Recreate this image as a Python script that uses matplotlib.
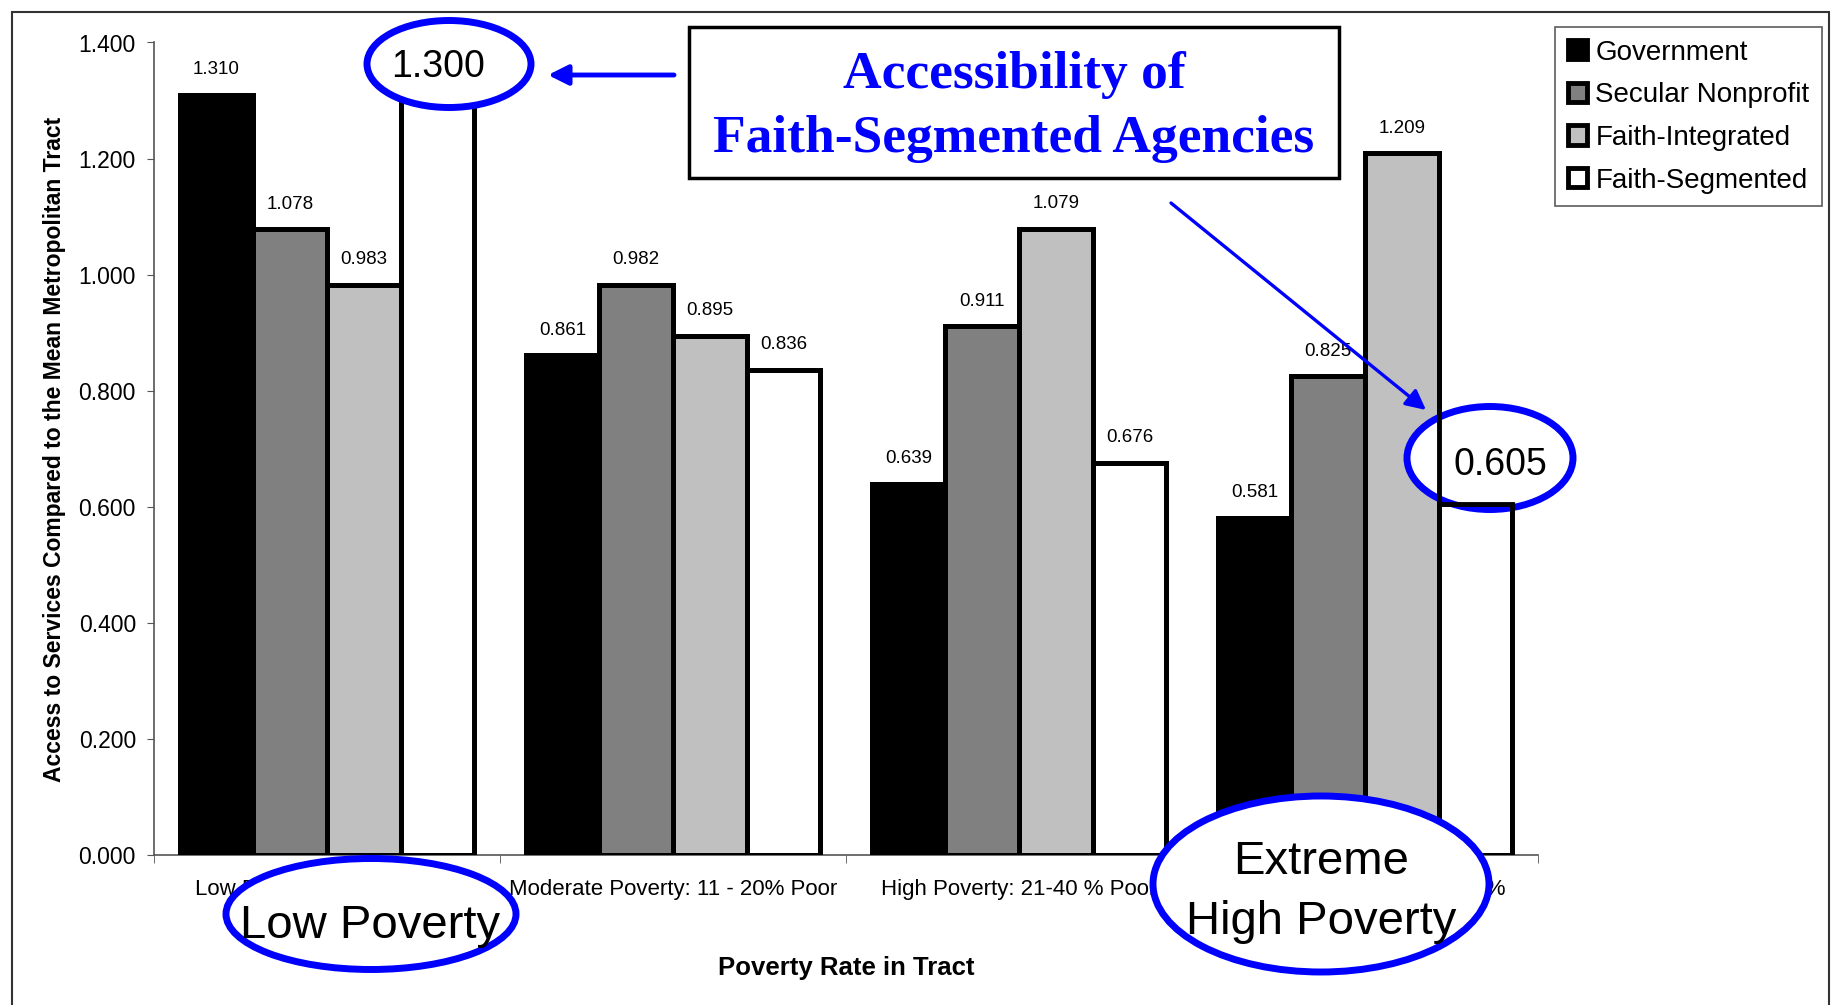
import matplotlib
matplotlib.use("Agg")
import matplotlib.pyplot as plt
import numpy as np
from matplotlib.patches import Ellipse, Rectangle, FancyArrowPatch

plt.rcParams['font.family'] = ['Liberation Sans', 'DejaVu Sans']

# data
categories = ['Low Poverty: 0 - 10% Poor', 'Moderate Poverty: 11 - 20% Poor',
              'High Poverty: 21-40 % Poor', 'Extreme Poverty: Over 40 %']
series = ['Government', 'Secular Nonprofit', 'Faith-Integrated', 'Faith-Segmented']
government = [1.310, 0.861, 0.639, 0.581]
secular = [1.078, 0.982, 0.911, 0.825]
faith_int = [0.983, 0.895, 1.079, 1.209]
faith_seg = [1.300, 0.836, 0.676, 0.605]
yticks = [0.0, 0.2, 0.4, 0.6, 0.8, 1.0, 1.2, 1.4]
circled = [0, 3]  # faith-segmented values shown big inside the blue circles

values = [government, secular, faith_int, faith_seg]
colors = ['#000000', '#808080', '#c0c0c0', '#ffffff']

W, H = 1837, 1005
fig = plt.figure(figsize=(W / 100, H / 100), dpi=100)


def fx(x):
    return x / W


def fy(y):
    return 1 - y / H


ax = fig.add_axes([fx(154), fy(855), fx(1538) - fx(154), fy(42.5) - fy(855)])

x = np.arange(len(categories))
bw = 0.2128
for i, (vals, col) in enumerate(zip(values, colors)):
    pos = x + (i - 1.5) * bw
    ax.bar(pos, vals, bw, color=col, edgecolor='black', linewidth=3.5,
           label=series[i], zorder=2)
    # edges again on top of the white ellipse
    ax.bar(pos, vals, bw, fill=False, edgecolor='black', linewidth=3.5, zorder=4)
    for j, (p, v) in enumerate(zip(pos, vals)):
        if i == 3 and j in circled:
            continue
        ax.annotate(f'{v:.3f}', (p, v), xytext=(0, 12), textcoords='offset points',
                    ha='center', va='bottom', fontsize=13.5, zorder=2.5)

ax.set_xlim(-0.5, 3.5)
ax.set_ylim(0, 1.4)
ax.set_yticks(yticks)
ax.set_yticklabels([f'{t:.3f}' for t in yticks], fontsize=16.5)
ax.set_xticks(x)
ax.set_xticklabels(categories, fontsize=16)
ax.set_xticks(np.arange(-0.5, 4.0, 1.0), minor=True)
ax.tick_params(axis='x', which='major', length=0, pad=17)
ax.tick_params(axis='x', which='minor', length=6, direction='out', color='#555555')
ax.tick_params(axis='y', length=5, pad=8, color='#555555')
for s in ['top', 'right']:
    ax.spines[s].set_visible(False)
for s in ['left', 'bottom']:
    ax.spines[s].set_color('#555555')
    ax.spines[s].set_linewidth(1.2)

fig.text(fx(846), fy(975), 'Poverty Rate in Tract', ha='center', va='baseline',
         fontsize=18.5, fontweight='bold')
fig.text(fx(55), fy(449), 'Access to Services Compared to the Mean Metropolitan Tract',
         rotation=90, ha='center', va='center', fontsize=16.5, fontweight='bold')

handles, labels = ax.get_legend_handles_labels()
leg = ax.legend(handles[:4], labels[:4], loc='upper right',
                bbox_to_anchor=(fx(1822), fy(27)), bbox_transform=fig.transFigure,
                fontsize=20, frameon=True, fancybox=False, edgecolor='#333333',
                handlelength=0.7, handleheight=0.7, handletextpad=0.3,
                labelspacing=0.6, borderpad=0.45, borderaxespad=0)
leg.get_frame().set_linewidth(1.2)

# title box
ax.add_patch(Rectangle((fx(689), fy(178)), fx(1339) - fx(689), fy(27) - fy(178),
                       transform=fig.transFigure, facecolor='white', edgecolor='black',
                       linewidth=2.5, clip_on=False, zorder=8))
ax.text(fx(1014), fy(88), 'Accessibility of', transform=fig.transFigure,
        ha='center', va='baseline', fontsize=38.5, fontweight='bold', color='#0000ff',
        family='Liberation Serif', zorder=9)
ax.text(fx(1014), fy(152), 'Faith-Segmented Agencies', transform=fig.transFigure,
        ha='center', va='baseline', fontsize=38.5, fontweight='bold', color='#0000ff',
        family='Liberation Serif', zorder=9)

blue = '#0000ff'
# ellipses: (cx, cy, w, h, zorder)
ells = [(449, 64, 164, 87, 10), (1490, 458, 166, 103, 3),
        (371, 914, 290, 111, 10), (1321, 884, 336, 176, 10)]
for cx, cy, w, h, z in ells:
    ax.add_patch(Ellipse((fx(cx), fy(cy)), w / W, h / H, transform=fig.transFigure,
                         facecolor='white', edgecolor=blue, linewidth=5,
                         clip_on=False, zorder=z))

big = dict(transform=fig.transFigure, ha='center', va='baseline', zorder=11)
ax.text(fx(438), fy(77), f'{faith_seg[0]:.3f}', fontsize=27, **big)
ax.text(fx(1500), fy(475), f'{faith_seg[3]:.3f}', fontsize=27, **big)
ax.text(fx(370), fy(938), 'Low Poverty', fontsize=34, **big)
ax.text(fx(1321), fy(874), 'Extreme', fontsize=34, **big)
ax.text(fx(1321), fy(934), 'High Poverty', fontsize=34, **big)

# arrows
a1 = FancyArrowPatch((fx(674), fy(75)), (fx(548), fy(75)), transform=fig.transFigure,
                     arrowstyle='-|>', mutation_scale=30, color=blue, linewidth=3.5,
                     shrinkA=0, shrinkB=0, clip_on=False, zorder=10)
a2 = FancyArrowPatch((fx(1171), fy(203)), (fx(1426), fy(410)), transform=fig.transFigure,
                     arrowstyle='-|>', mutation_scale=30, color=blue, linewidth=2.4,
                     shrinkA=0, shrinkB=0, clip_on=False, zorder=10)
ax.add_patch(a1)
ax.add_patch(a2)

# outer border
fig.add_artist(Rectangle((fx(12), -0.01), fx(1829) - fx(12), fy(12) + 0.01,
                         transform=fig.transFigure, fill=False, edgecolor='#333333',
                         linewidth=1.5))

fig.savefig('out.png', dpi=100)
